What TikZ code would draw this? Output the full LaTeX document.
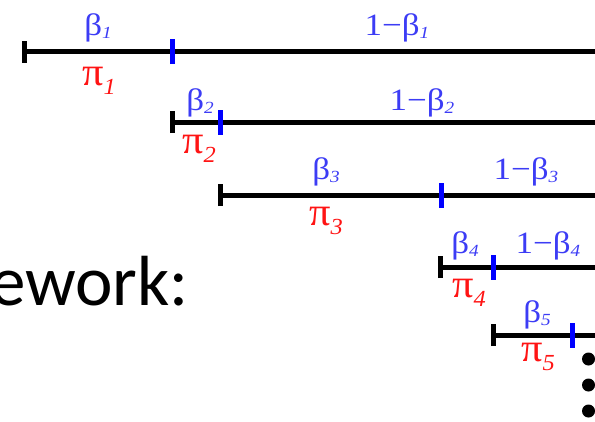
\documentclass[tikz,border=0pt]{standalone}
\usepackage{fontspec}
\usetikzlibrary{calc}
\setmainfont{Liberation Serif}
\newfontfamily\calfont{Carlito}
\definecolor{lblue}{RGB}{60,60,245}
\definecolor{lred}{RGB}{255,20,20}
\newcommand{\bl}[2]{\scalebox{1.13}[1]{#1\raisebox{-3pt}{\fontsize{17}{17}\selectfont\itshape #2}}}
\newcommand{\pl}[1]{\scalebox{1.06}[1]{π\raisebox{-9pt}{\fontsize{23}{23}\selectfont\itshape #1}}}
\newcommand{\omb}{1\char"2212 β}
\tikzset{
  seg/.style={line width=5pt, black},
  ltick/.style={line width=5pt, black},
  btick/.style={line width=5pt, blue},
  blab/.style={text=lblue, font=\fontsize{31}{31}\selectfont, inner sep=0pt, anchor=base},
  plab/.style={text=lred, font=\fontsize{40}{40}\selectfont, inner sep=0pt, anchor=base},
  dotc/.style={circle, fill=black, inner sep=0pt, minimum size=13pt},
}
\begin{document}
\begin{tikzpicture}[x=1pt,y=-1pt]
\useasboundingbox (0,0) rectangle (595,421);
\clip (0,0) rectangle (595,421);
% row anchors
\coordinate (L1) at (24.5,51.5);  \coordinate (B1) at (172.5,51.5); \coordinate (E1) at (597,51.5);
\coordinate (L2) at (172.5,122);  \coordinate (B2) at (220,122);    \coordinate (E2) at (597,122);
\coordinate (L3) at (220,195);    \coordinate (B3) at (441,195);    \coordinate (E3) at (597,195);
\coordinate (L4) at (440,267);    \coordinate (B4) at (493,267);    \coordinate (E4) at (597,267);
\coordinate (L5) at (493,335);    \coordinate (B5) at (572.5,335);  \coordinate (E5) at (597,335);
\foreach \i in {1,...,5}{
  \draw[seg] (L\i) -- (E\i);
  \draw[ltick] ([yshift=-11pt]L\i) -- ([yshift=11pt]L\i);
  \draw[btick] ([yshift=-12.5pt]B\i) -- ([yshift=12.5pt]B\i);
}
% beta labels
\node[blab] (b1) at (98,35.5)  {\bl{β}{1}};
\node[blab] (b2) at (200,110)  {\bl{β}{2}};
\node[blab] (b3) at (326,179)  {\bl{β}{3}};
\node[blab] (b4) at (465,253)  {\bl{β}{4}};
\node[blab] (b5) at (537,322)  {\bl{β}{5}};
% 1-beta labels
\node[blab] (c1) at (397,35.5) {\bl{\omb}{1}};
\node[blab] (c2) at (422,110)  {\bl{\omb}{2}};
\node[blab] (c3) at (526,179)  {\bl{\omb}{3}};
\node[blab] (c4) at (548,253)  {\bl{\omb}{4}};
% pi labels
\node[plab] (p1) at (99,85)   {\pl{1}};
\node[plab] (p2) at (199,153) {\pl{2}};
\node[plab] (p3) at (326,225) {\pl{3}};
\node[plab] (p4) at (469,297) {\pl{4}};
\node[plab] (p5) at (538,361) {\pl{5}};
% dots
\node[dotc] (d1) at (588.5,359) {};
\node[dotc] (d2) at (588.5,385) {};
\node[dotc] (d3) at (588.5,411) {};
% text
\node[font=\calfont\fontsize{71}{71}\selectfont, anchor=base east, inner sep=0pt] (fw) at (189,305) {ework:};
\end{tikzpicture}
\end{document}
